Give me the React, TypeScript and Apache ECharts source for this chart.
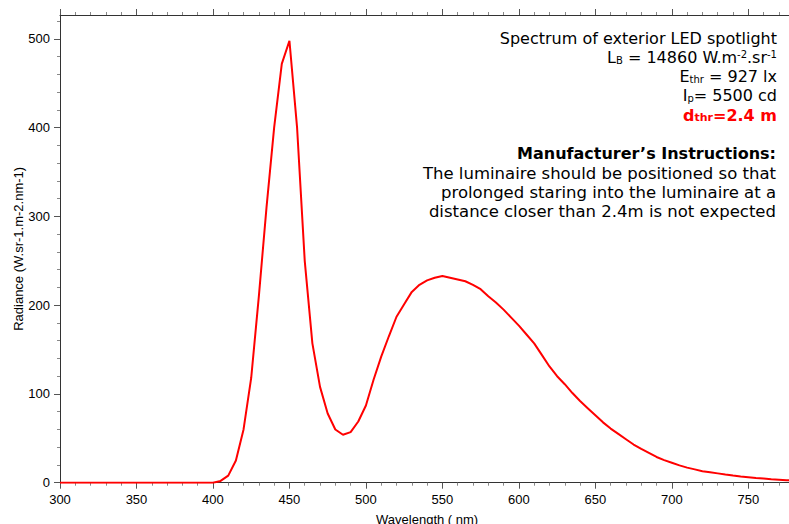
import React, { useEffect, useRef } from "react";
import * as echarts from "echarts";

const wavelengths = [
  300, 400, 405, 410, 415, 420, 425, 430, 435, 440, 445, 450, 455, 460, 465, 470, 475, 480, 485, 490,
  495, 500, 505, 510, 515, 520, 525, 530, 535, 540, 545, 550, 555, 560, 565, 570, 575, 580, 585, 590,
  595, 600, 605, 610, 615, 620, 625, 630, 635, 640, 645, 650, 655, 660, 665, 670, 675, 680, 685, 690,
  695, 700, 705, 710, 715, 720, 725, 730, 735, 740, 745, 750, 755, 760, 765, 770, 775, 780,
];
const radiance = [
  0, 0, 2, 8, 25, 60, 118, 210, 310, 400, 472, 498, 400, 250, 157, 108, 78, 60, 54, 57,
  69, 87, 116, 142, 165, 187, 201, 215, 223, 228, 231, 233, 231, 229, 227, 223, 218, 210, 203, 195,
  186, 177, 167, 157, 144, 131, 120, 111, 101, 92, 84, 76, 68, 61, 55, 49, 43, 38, 33.5, 29,
  25.5, 22.5, 19.5, 17, 15, 13, 11.8, 10.5, 9.2, 8, 7, 6.2, 5.4, 4.7, 4, 3.4, 2.8, 2.3,
];

const xMajorTicks = [300, 350, 400, 450, 500, 550, 600, 650, 700, 750];
const xMinorTicks = [
  310, 320, 330, 340, 360, 370, 380, 390, 410, 420, 430, 440, 460, 470, 480, 490, 510, 520, 530, 540,
  560, 570, 580, 590, 610, 620, 630, 640, 660, 670, 680, 690, 710, 720, 730, 740, 760, 770,
];
const yMajorTicks = [0, 100, 200, 300, 400, 500];
const yMinorTicks = [
  20, 40, 60, 80, 120, 140, 160, 180, 220, 240, 260, 280, 320, 340, 360, 380, 420, 440, 460, 480, 520,
];

const xAxisName = "Wavelength ( nm)";
const yAxisName = "Radiance (W.sr-1.m-2.nm-1)";

const infoLines = [
  "{n|Spectrum of exterior LED spotlight}",
  "{n|L}{s|B}{n| = 14860 W.m}{p|-2}{n|.sr}{p|-1}",
  "{n|E}{s|thr}{n| = 927 lx}",
  "{n|I}{s|p}{n|= 5500 cd}",
  "{b|d}{bs|thr}{b|=2.4 m}",
];
const instructionTitle = "Manufacturer\u2019s Instructions:";
const instructionLines = [
  "The luminaire should be positioned so that",
  "prolonged staring into the luminaire at a",
  "distance closer than 2.4m is not expected",
];

const AXIS_FONT = "Liberation Sans";
const NOTE_FONT = "DejaVu Sans";

export default function App() {
  const ref = useRef<HTMLDivElement>(null);

  useEffect(() => {
    if (!ref.current) return;
    const chart = echarts.init(ref.current, undefined, { renderer: "svg" });

    const seriesData = wavelengths.map((w, i) => [w, radiance[i]]);

    const rich = {
      n: { fontSize: 16, fontFamily: NOTE_FONT, fill: "#000", lineHeight: 16 },
      s: { fontSize: 10, fontFamily: NOTE_FONT, fill: "#000", lineHeight: 10, verticalAlign: "bottom" },
      p: { fontSize: 10, fontFamily: NOTE_FONT, fill: "#000", lineHeight: 5, verticalAlign: "top" },
      b: { fontSize: 16, fontFamily: NOTE_FONT, fontWeight: "bold", fill: "#ff0000", lineHeight: 16 },
      bs: {
        fontSize: 11,
        fontFamily: NOTE_FONT,
        fontWeight: "bold",
        fill: "#ff0000",
        lineHeight: 10,
        verticalAlign: "bottom",
      },
    };

    const infoY = [38, 57.3, 76.6, 95.9, 115.2];
    const instrY = [173, 192.3, 211.6];

    const graphics: any[] = [];
    infoLines.forEach((t, i) => {
      graphics.push({
        type: "text",
        x: 777,
        y: infoY[i],
        style: { text: t, rich, align: "right", verticalAlign: "middle" },
      });
    });
    graphics.push({
      type: "text",
      x: 776,
      y: 153.8,
      style: {
        text: instructionTitle,
        fontSize: 16,
        fontFamily: NOTE_FONT,
        fontWeight: "bold",
        fill: "#000",
        align: "right",
        verticalAlign: "middle",
      },
    });
    instructionLines.forEach((t, i) => {
      graphics.push({
        type: "text",
        x: 776,
        y: instrY[i],
        style: {
          text: t,
          fontSize: 16.5,
          fontFamily: NOTE_FONT,
          fill: "#000",
          align: "right",
          verticalAlign: "middle",
        },
      });
    });

    const axisLineStyle = { color: "#333", width: 1 };
    const majorTickStyle = { color: "#555", width: 1 };
    const minorTickStyle = { color: "#888", width: 1 };
    const labelStyle = { fontSize: 13, color: "#000", fontFamily: AXIS_FONT };

    const xBase = { type: "value", min: 300, max: 780, splitLine: { show: false } };
    const yBase = { type: "value", min: 0, max: 527, splitLine: { show: false } };

    chart.setOption({
      animation: false,
      grid: {
        left: 60,
        top: 15,
        right: 5.8,
        bottom: 41.3,
        containLabel: false,
        outerBoundsMode: "none",
      },
      xAxis: [
        {
          ...xBase,
          position: "bottom",
          axisLine: { show: true, lineStyle: axisLineStyle },
          axisTick: { show: true, length: 6, customValues: xMajorTicks, lineStyle: majorTickStyle },
          axisLabel: { ...labelStyle, margin: 10, customValues: xMajorTicks },
          name: xAxisName,
          nameLocation: "middle",
          nameGap: 30,
          nameMoveOverlap: false,
          nameTextStyle: { ...labelStyle },
        },
        {
          ...xBase,
          position: "bottom",
          axisLine: { show: false },
          axisTick: { show: true, length: 3, customValues: xMinorTicks, lineStyle: minorTickStyle },
          axisLabel: { show: false },
        },
        {
          ...xBase,
          position: "top",
          axisLine: { show: true, lineStyle: axisLineStyle },
          axisTick: { show: true, length: 6, customValues: xMajorTicks, lineStyle: majorTickStyle },
          axisLabel: { show: false },
        },
        {
          ...xBase,
          position: "top",
          axisLine: { show: false },
          axisTick: { show: true, length: 3, customValues: xMinorTicks, lineStyle: minorTickStyle },
          axisLabel: { show: false },
        },
      ],
      yAxis: [
        {
          ...yBase,
          position: "left",
          axisLine: { show: true, lineStyle: axisLineStyle },
          axisTick: { show: true, length: 6, customValues: yMajorTicks, lineStyle: majorTickStyle },
          axisLabel: { ...labelStyle, margin: 10, customValues: yMajorTicks },
          name: yAxisName,
          nameLocation: "middle",
          nameGap: 35,
          nameMoveOverlap: false,
          nameTextStyle: { ...labelStyle },
        },
        {
          ...yBase,
          position: "left",
          axisLine: { show: false },
          axisTick: { show: true, length: 3, customValues: yMinorTicks, lineStyle: minorTickStyle },
          axisLabel: { show: false },
        },
      ],
      series: [
        {
          type: "line",
          xAxisIndex: 0,
          yAxisIndex: 0,
          data: seriesData,
          showSymbol: false,
          symbol: "none",
          smooth: false,
          lineStyle: { color: "#ff0000", width: 2 },
          itemStyle: { color: "#ff0000" },
        },
      ],
      graphic: graphics,
    });

    return () => chart.dispose();
  }, []);

  return (
    <div
      style={{
        position: "absolute",
        left: 0,
        top: 0,
        width: 789,
        height: 524,
        overflow: "hidden",
        background: "#fff",
      }}
    >
      <div ref={ref} style={{ width: 800, height: 524 }} />
    </div>
  );
}
